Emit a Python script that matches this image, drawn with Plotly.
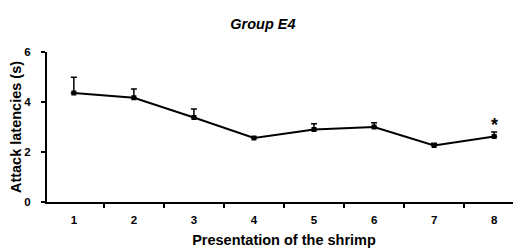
import plotly.graph_objects as go

categories = ["1", "2", "3", "4", "5", "6", "7", "8"]
latency = [4.36, 4.17, 3.38, 2.56, 2.90, 3.00, 2.26, 2.62]
err_up = [0.63, 0.35, 0.34, 0.04, 0.23, 0.17, 0.09, 0.18]
y_ticks = [0, 2, 4, 6]
star_index = 7  # position of "8" on the category axis

FONT = "Arial, Liberation Sans, sans-serif"

fig = go.Figure()
fig.add_trace(go.Scatter(
    x=categories, y=latency,
    mode="lines+markers",
    line=dict(color="black", width=2),
    marker=dict(symbol="square", size=5, color="black"),
    error_y=dict(type="data", symmetric=False, array=err_up,
                 arrayminus=[0] * len(err_up),
                 color="black", thickness=1.5, width=3),
    showlegend=False,
))

fig.add_annotation(x=star_index, y=latency[star_index] + err_up[star_index],
                   text="<b>*</b>", showarrow=False,
                   yanchor="bottom", yshift=-5,
                   font=dict(family=FONT, size=18, color="black"))

# page body adds an 8px offset, so the figure is 8px smaller than the window
fig.update_layout(
    width=513, height=242,
    margin=dict(l=39, r=0, t=44, b=48),
    paper_bgcolor="white", plot_bgcolor="white",
    title=dict(text="<b><i>Group E4</i></b>", x=0.497, xanchor="center",
               y=0.934, yanchor="middle",
               font=dict(family=FONT, size=14.5, color="black")),
    font=dict(family=FONT, color="black"),
)
fig.update_xaxes(
    type="category", tickson="boundaries", ticks="outside", ticklen=4,
    tickwidth=1.5, tickcolor="black", automargin=False,
    ticklabelstandoff=6,
    showline=True, linecolor="black", linewidth=2, showgrid=False,
    tickfont=dict(family=FONT, size=11.5, color="black"),
    tickprefix="<b>", ticksuffix="</b>",
    title=dict(text="<b>Presentation of the shrimp</b>", standoff=10,
               font=dict(family=FONT, size=14.5, color="black")),
)
fig.update_yaxes(
    range=[0, 6], tickvals=y_ticks, ticktext=[f"<b>{v}</b>" for v in y_ticks],
    ticks="outside", ticklen=4, tickwidth=1.5, tickcolor="black",
    automargin=False, ticklabelstandoff=8,
    showline=True, linecolor="black", linewidth=2, showgrid=False,
    zeroline=False,
    tickfont=dict(family=FONT, size=11.5, color="black"),
    title=dict(text="<b>Attack latencies (s)</b>", standoff=6,
               font=dict(family=FONT, size=14.5, color="black")),
)

fig.write_html("out.html")
